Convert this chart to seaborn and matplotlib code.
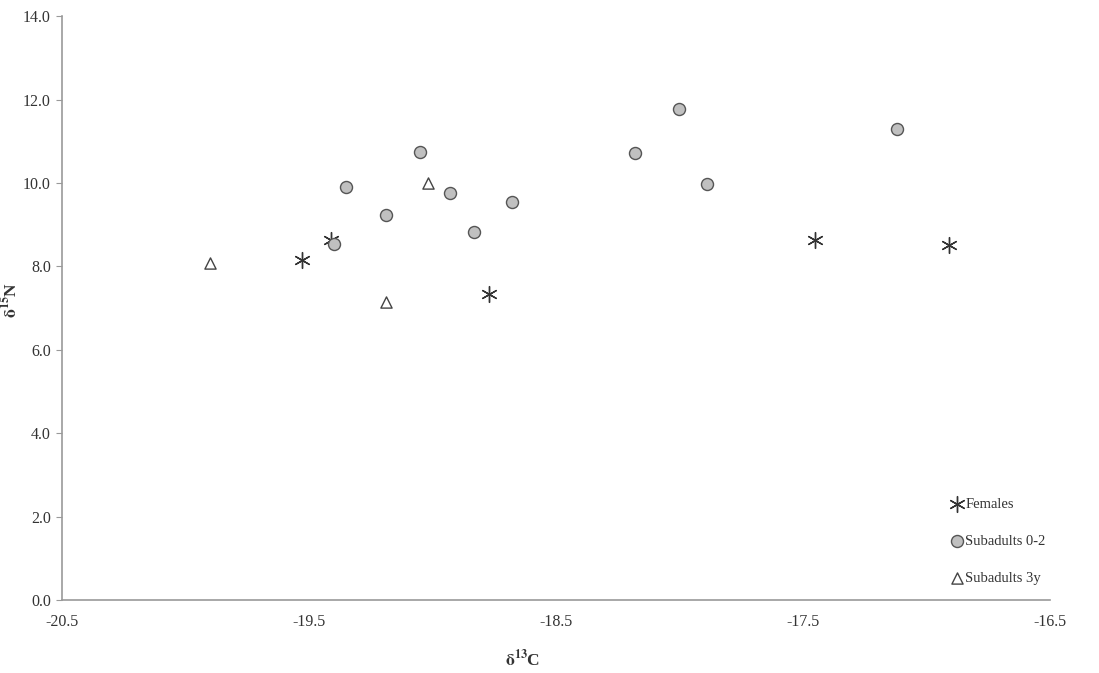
import pandas as pd
import matplotlib
matplotlib.use("Agg")
import matplotlib.pyplot as plt
import seaborn as sns

# Data
females_c = [-19.53, -19.41, -18.77, -17.45, -16.91]
females_n = [8.15, 8.63, 7.34, 8.63, 8.51]

sub02_c = [-19.35, -19.40, -19.19, -19.05, -18.93, -18.83, -18.68, -18.18, -18.00, -17.89, -17.12]
sub02_n = [9.90, 8.54, 9.23, 10.74, 9.76, 8.82, 9.54, 10.72, 11.77, 9.98, 11.29]

sub3_c = [-19.90, -19.19, -19.02]
sub3_n = [8.08, 7.15, 10.00]

x_ticks = [-20.5, -19.5, -18.5, -17.5, -16.5]
y_ticks = [0, 2, 4, 6, 8, 10, 12, 14]

df_f = pd.DataFrame({"d13C": females_c, "d15N": females_n})
df_s = pd.DataFrame({"d13C": sub02_c, "d15N": sub02_n})
df_t = pd.DataFrame({"d13C": sub3_c, "d15N": sub3_n})

sns.set_style("white")
plt.rcParams["font.family"] = ["Liberation Serif", "DejaVu Serif"]
plt.rcParams["mathtext.fontset"] = "stix"

fig = plt.figure(figsize=(10.99, 6.73), dpi=100)
ax = fig.add_axes([0.0564, 0.1085, 0.899, 0.8675])

sns.scatterplot(data=df_f, x="d13C", y="d15N", ax=ax, marker=(6, 2, 0), s=130,
                color="#333333", linewidth=1.0, label="Females")
sns.scatterplot(data=df_s, x="d13C", y="d15N", ax=ax, marker="o", s=75,
                color="#c0c0c0", edgecolor="#555555", linewidth=1.0, label="Subadults 0-2")
sns.scatterplot(data=df_t, x="d13C", y="d15N", ax=ax, marker="^", s=65,
                color="white", edgecolor="#444444", linewidth=1.0, label="Subadults 3y")

ax.set_xlim(-20.5, -16.5)
ax.set_ylim(0, 14)
ax.set_xticks(x_ticks)
ax.set_xticklabels([f"{v:.1f}" for v in x_ticks])
ax.set_yticks(y_ticks)
ax.set_yticklabels([f"{v:.1f}" for v in y_ticks])
ax.tick_params(axis="x", length=0, pad=10, labelsize=11.5, colors="#333333")
ax.tick_params(axis="y", length=4, width=0.8, direction="out", left=True,
               pad=4, labelsize=11.5, colors="#333333")
ax.tick_params(axis="y", color="#999999")

for side in ["top", "right"]:
    ax.spines[side].set_visible(False)
for side in ["left", "bottom"]:
    ax.spines[side].set_color("#999999")
    ax.spines[side].set_linewidth(1.2)

ax.set_xlabel(r"$\mathbf{\delta^{13}}$C", fontsize=12.5, fontweight="bold", color="#333333")
ax.set_ylabel(r"$\mathbf{\delta^{15}}$N", fontsize=12.5, fontweight="bold", color="#333333")
ax.xaxis.set_label_coords(0.466, -0.084)
ax.yaxis.set_label_coords(-0.042, 0.514)

leg = ax.legend(loc="lower right", frameon=False, fontsize=10.5, labelspacing=1.65,
                handletextpad=0.0, handlelength=1.2, borderaxespad=0.3,
                bbox_to_anchor=(1.006, 0.008))
for t in leg.get_texts():
    t.set_color("#333333")

fig.savefig("out.png", dpi=100)
